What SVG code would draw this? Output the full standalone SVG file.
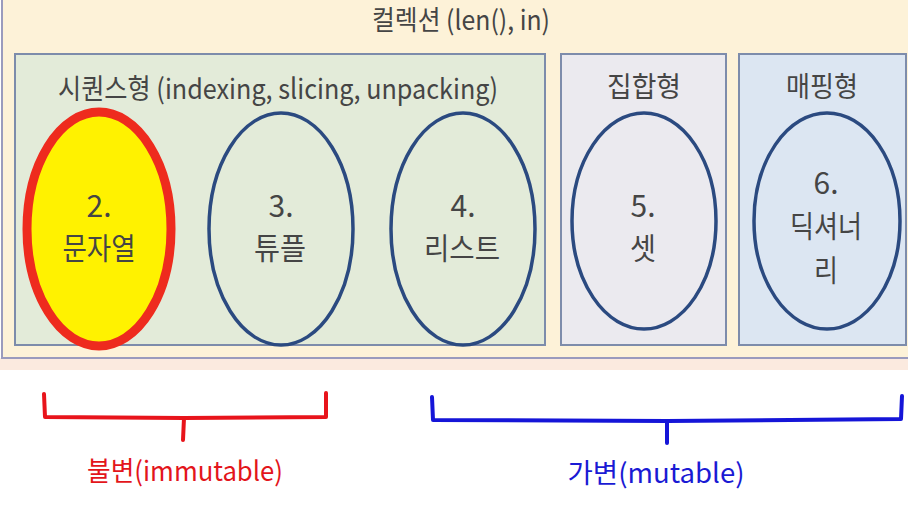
<svg xmlns="http://www.w3.org/2000/svg" width="908" height="514" viewBox="0 0 908 514">
<style>
.lbl{font-family:"Noto Sans CJK KR","Liberation Sans",sans-serif;fill:#454545;text-anchor:middle}
.box{stroke:#7d8cab;stroke-width:2}
.ring{fill:none;stroke:#2b4a80;stroke-width:3.5}
.br{fill:none;stroke-width:4;stroke-linejoin:round;stroke-linecap:round}
.note{font-family:"Noto Sans CJK KR","Liberation Sans",sans-serif;text-anchor:middle;font-size:27px}
</style>
<rect x="0" y="0" width="908" height="514" fill="#ffffff"/>
<rect x="0" y="358" width="908" height="12" fill="#fbeadf"/>
<g id="collection">
<rect x="2" y="-10" width="916" height="368" fill="#fdf2d8" stroke="#9a9bbd" stroke-width="2"/>
<text class="lbl" x="461" y="30" font-size="27" textLength="178" lengthAdjust="spacingAndGlyphs">컬렉션 (len(), in)</text>
</g>
<g id="sequence">
<rect class="box" x="15" y="54" width="530" height="291" fill="#e3ebd9"/>
<text class="lbl" x="278" y="99" font-size="28" textLength="440" lengthAdjust="spacingAndGlyphs">시퀀스형 (indexing, slicing, unpacking)</text>
</g>
<g id="set-type">
<rect class="box" x="561" y="54" width="165" height="291" fill="#ebeaef"/>
<text class="lbl" x="644" y="97" font-size="28" textLength="74" lengthAdjust="spacingAndGlyphs">집합형</text>
</g>
<g id="mapping">
<rect class="box" x="739" y="54" width="167" height="291" fill="#dce6f2"/>
<text class="lbl" x="822" y="97" font-size="28" textLength="72" lengthAdjust="spacingAndGlyphs">매핑형</text>
</g>
<g id="node-string">
<ellipse cx="99" cy="229" rx="72" ry="117" fill="#fff200" stroke="#ee2b1e" stroke-width="9"/>
<text class="lbl" x="99" y="217" font-size="30" fill="#4a4a2a">2.</text>
<text class="lbl" x="99" y="259" font-size="30" textLength="73" lengthAdjust="spacingAndGlyphs">문자열</text>
</g>
<g id="node-tuple">
<ellipse class="ring" cx="281" cy="229" rx="72" ry="116"/>
<text class="lbl" x="281" y="217" font-size="30">3.</text>
<text class="lbl" x="280" y="259" font-size="30" textLength="52" lengthAdjust="spacingAndGlyphs">튜플</text>
</g>
<g id="node-list">
<ellipse class="ring" cx="463" cy="229" rx="72" ry="116"/>
<text class="lbl" x="463" y="217" font-size="30">4.</text>
<text class="lbl" x="462" y="259" font-size="30" textLength="76" lengthAdjust="spacingAndGlyphs">리스트</text>
</g>
<g id="node-set">
<ellipse class="ring" cx="644" cy="221" rx="72" ry="108"/>
<text class="lbl" x="643" y="217" font-size="30">5.</text>
<text class="lbl" x="643" y="259" font-size="30" textLength="26" lengthAdjust="spacingAndGlyphs">셋</text>
</g>
<g id="node-dict">
<ellipse class="ring" cx="827" cy="221" rx="73" ry="108"/>
<text class="lbl" x="826" y="194" font-size="30">6.</text>
<text class="lbl" x="826" y="237" font-size="30" textLength="72" lengthAdjust="spacingAndGlyphs">딕셔너</text>
<text class="lbl" x="826" y="281" font-size="30" textLength="24" lengthAdjust="spacingAndGlyphs">리</text>
</g>
<g id="connectors">
<path class="br" stroke="#e8141b" d="M44 394 L45 417 L184 418 L326 417 L326 393 M184 418 L183 440"/>
<path class="br" stroke="#1515d8" d="M432 397 L433 420 L667 421 L901 419 L902 396 M667 421 L667 443"/>
</g>
<g id="notes">
<text class="note" x="185" y="481" fill="#e3151b" textLength="196" lengthAdjust="spacingAndGlyphs">불변(immutable)</text>
<text class="note" x="656" y="483" fill="#1a1ad4" textLength="177" lengthAdjust="spacingAndGlyphs">가변(mutable)</text>
</g>
</svg>
